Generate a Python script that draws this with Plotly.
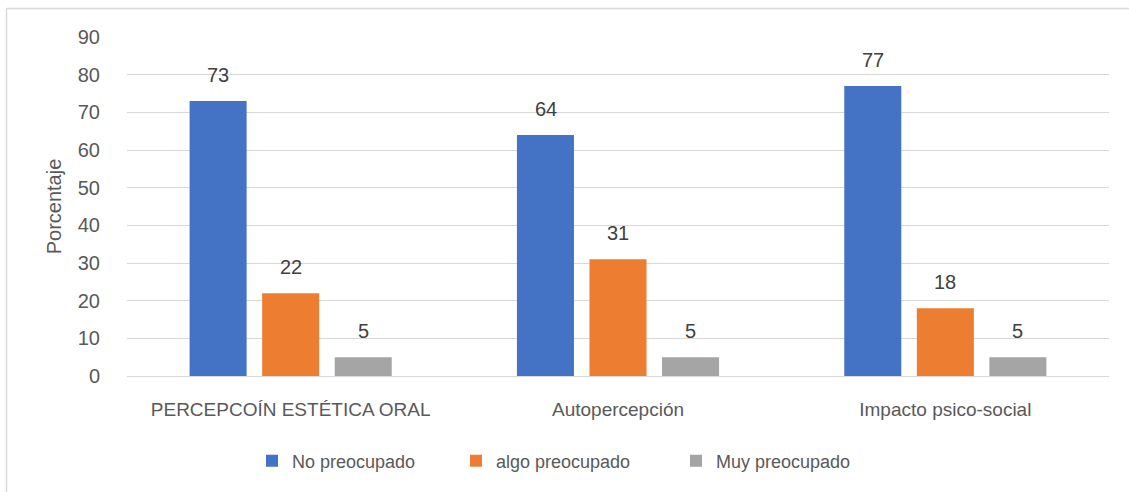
import plotly.graph_objects as go

categories = ["PERCEPCOÍN ESTÉTICA ORAL", "Autopercepción", "Impacto psico-social"]
series_names = ["No preocupado", "algo preocupado", "Muy preocupado"]
no_preocupado = [73, 64, 77]
algo_preocupado = [22, 31, 18]
muy_preocupado = [5, 5, 5]
y_ticks = [0, 10, 20, 30, 40, 50, 60, 70, 80, 90]

series_values = [no_preocupado, algo_preocupado, muy_preocupado]
colors = ["#4472C4", "#ED7D31", "#A5A5A5"]
FONT = "Liberation Sans"
TXT = "#595959"

W, H = 1129, 492
ml, mr, mt, mb = 127, 20, 37, 116
pw, ph = W - ml - mr, H - mt - mb


def px_x(p):
    return (p - ml) / pw


def px_y(p):
    return 1 - (p - mt) / ph


legend_ids = ["legend", "legend2", "legend3"]
legend_text_x = [292, 496, 716]

fig = go.Figure()
for name, vals, c, lid in zip(series_names, series_values, colors, legend_ids):
    fig.add_trace(go.Bar(x=categories, y=vals, name=name, marker_color=c,
                         marker_line_width=0, legend=lid))

# data labels
offsets = [-72.5, 0, 72.5]
for vals, off in zip(series_values, offsets):
    for cat, v in zip(categories, vals):
        fig.add_annotation(x=cat, y=v, text=str(v), showarrow=False, xshift=off,
                           yshift=26, font=dict(family=FONT, size=20, color="#404040"))

# border (left and top)
fig.add_shape(type="line", xref="paper", yref="paper", x0=px_x(6.5), x1=px_x(6.5),
              y0=px_y(8.5), y1=px_y(500), line=dict(color="#D9D9D9", width=1.5))
fig.add_shape(type="line", xref="paper", yref="paper", x0=px_x(6.5), x1=px_x(1135),
              y0=px_y(8.5), y1=px_y(8.5), line=dict(color="#D9D9D9", width=1.5))

leg_common = dict(orientation="h", xanchor="left", yanchor="middle", y=px_y(461),
                  itemwidth=30,
                  font=dict(family=FONT, size=18, color=TXT), bgcolor="rgba(0,0,0,0)")
layout_legends = {}
for lid, tx in zip(legend_ids, legend_text_x):
    layout_legends[lid] = dict(x=px_x(tx - 40), **leg_common)

fig.update_layout(
    width=W, height=H, margin=dict(l=ml, r=mr, t=mt, b=mb),
    paper_bgcolor="white", plot_bgcolor="white",
    barmode="group", bargap=0.335, bargroupgap=0.214,
    font=dict(family=FONT, size=18, color=TXT),
    showlegend=True,
    **layout_legends,
)
fig.update_xaxes(showgrid=False, showline=True, linecolor="#D9D9D9", linewidth=1,
                 ticks="outside", ticklen=16, tickcolor="rgba(0,0,0,0)",
                 tickfont=dict(family=FONT, size=19, color=TXT))
fig.update_yaxes(range=[0, 90], tickvals=y_ticks, showgrid=True, gridcolor="#D9D9D9",
                 gridwidth=1, zeroline=False, showline=False,
                 ticks="outside", ticklen=22, tickcolor="rgba(0,0,0,0)",
                 tickfont=dict(family=FONT, size=20, color=TXT),
                 title=dict(text="Porcentaje", standoff=10,
                            font=dict(family=FONT, size=20, color=TXT)))

fig.write_html("out.html")
